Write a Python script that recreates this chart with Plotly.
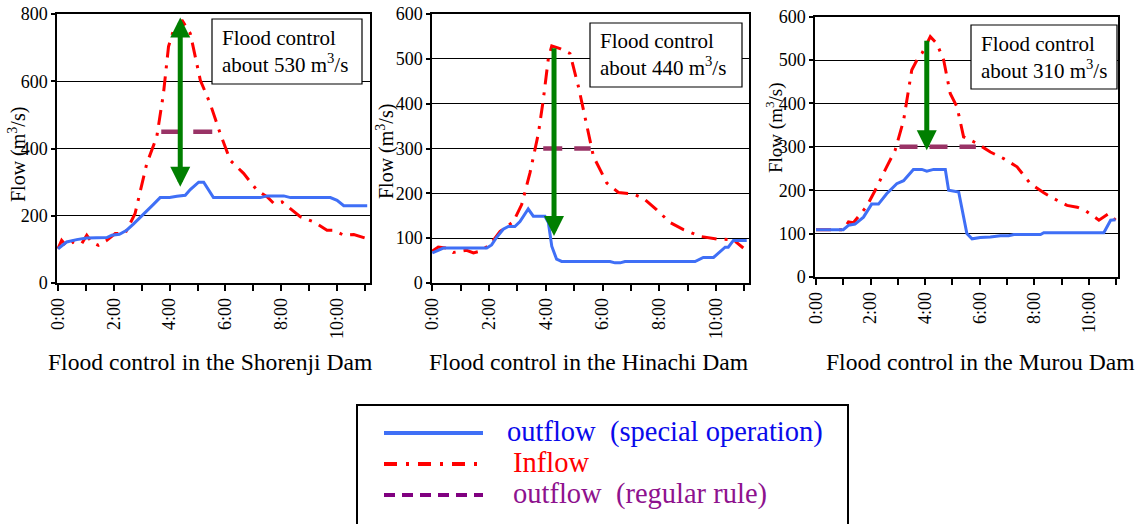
import plotly.graph_objects as go

# ---------------- data (hours after 0:00, m3/s) ----------------
tick_hours = [0, 2, 4, 6, 8, 10]
tick_labels = ["0:00", "2:00", "4:00", "6:00", "8:00", "10:00"]

# Shorenji Dam
sh_out_t = [0, 0.31, 0.67, 1.03, 1.75, 1.93, 2.2, 2.46, 2.7, 3.06, 3.42, 3.66, 4.0, 4.26, 4.56, 4.74,
            5.04, 5.22, 5.57, 7.25, 7.5, 8.09, 8.33, 9.76, 10.0, 10.24, 11.08]
sh_out_q = [102, 122, 129, 134, 135, 142, 145, 157, 175, 206, 234, 254, 254, 258, 261, 278,
            300, 300, 254, 254, 259, 259, 254, 254, 246, 230, 230]
sh_in_t = [0, 0.13, 0.31, 0.55, 0.85, 1.03, 1.2, 1.45, 1.75, 2.05, 2.4, 2.76, 3.18, 3.54, 3.78, 3.96,
           4.14, 4.26, 4.44, 4.74, 5.1, 5.45, 5.81, 6.17, 6.65, 7.13, 7.5, 7.74, 8.03, 8.33, 8.68,
           9.16, 9.64, 9.88, 10.24, 10.6, 11.08]
sh_in_q = [102, 127, 109, 122, 117, 142, 122, 112, 127, 147, 147, 206, 355, 435, 564, 703,
           752, 752, 782, 742, 603, 534, 445, 365, 326, 276, 256, 236, 241, 221, 197,
           182, 157, 157, 142, 144, 132]
sh_reg_t = [3.7, 5.57]
sh_reg_q = [450, 450]
sh_arrow_t, sh_arrow_top, sh_arrow_tip = 4.38, 794, 286
sh_cut = 530

# Hinachi Dam
hi_out_t = [0, 0.15, 0.39, 1.92, 2.09, 2.27, 2.5, 2.68, 2.91, 3.09, 3.38, 3.56, 3.97, 4.09, 4.21, 4.38,
            4.56, 6.26, 6.44, 6.62, 6.79, 9.26, 9.55, 9.91, 10.14, 10.32, 10.43, 10.61, 11.08]
hi_out_q = [67, 71, 78, 78, 85, 102, 120, 126, 126, 137, 165, 149, 149, 135, 82, 53,
            48, 48, 45, 45, 48, 48, 57, 57, 71, 80, 80, 95, 95]
hi_in_t = [0, 0.21, 0.5, 0.74, 1.21, 1.45, 1.68, 2.03, 2.39, 2.86, 3.15, 3.44, 3.74, 3.91, 4.09,
           4.21, 4.5, 4.85, 5.15, 5.44, 5.68, 6.15, 6.56, 7.09, 7.44, 7.91, 8.38, 8.85, 9.44,
           10.02, 10.49, 10.67, 10.96]
hi_in_q = [71, 80, 78, 68, 73, 67, 71, 85, 115, 137, 175, 245, 334, 408, 501,
           529, 523, 512, 438, 356, 282, 223, 202, 198, 189, 163, 135, 119, 104,
           98, 97, 93, 78]
hi_reg_t = [3.91, 5.58]
hi_reg_q = [300, 300]
hi_arrow_t, hi_arrow_top, hi_arrow_tip = 4.29, 527, 105
hi_cut = 440

# Murou Dam
mu_out_t = [0, 1.0, 1.19, 1.43, 1.74, 2.04, 2.29, 2.59, 2.96, 3.21, 3.57, 3.88, 4.06, 4.31, 4.74,
            4.86, 5.23, 5.53, 5.72, 6.02, 6.39, 6.76, 7.06, 7.25, 8.23, 8.35, 10.55, 10.8, 10.98]
mu_out_q = [109, 109, 119, 122, 138, 168, 168, 192, 215, 222, 248, 248, 244, 248, 248,
            200, 196, 100, 88, 91, 92, 95, 95, 98, 98, 102, 102, 131, 132]
mu_in_t = [0.0, 1.0, 1.19, 1.37, 1.86, 2.17, 2.59, 2.9, 3.21, 3.51, 3.7, 3.88, 4.19, 4.43, 4.68,
           4.92, 5.17, 5.41, 5.9, 6.39, 6.88, 7.37, 7.86, 8.35, 8.71, 9.2, 9.57, 9.9, 10.37,
           10.73, 10.98]
mu_in_q = [109, 109, 127, 125, 163, 200, 254, 292, 361, 477, 500, 515, 554, 538, 500,
           423, 392, 323, 308, 288, 273, 254, 215, 194, 181, 165, 161, 152, 131,
           146, 131]
mu_reg_t = [3.06, 5.86]
mu_reg_q = [300, 300]
mu_arrow_t, mu_arrow_top, mu_arrow_tip = 4.06, 548, 292
mu_cut = 310

dam_names = ["Shorenji", "Hinachi", "Murou"]
legend_names = ["outflow\u00a0 (special operation)", "Inflow", "outflow\u00a0 (regular rule)"]

# ---------------- style ----------------
W, H = 1135, 524
SERIF = "Liberation Serif"
BLUE = "#3F6FF6"
RED = "#FF0000"
REG = "#993366"
GREEN = "#007F00"


def fx(px):
    return px / W


def fy(py):
    return 1 - py / H


panels = [
    dict(out=(sh_out_t, sh_out_q), inflow=(sh_in_t, sh_in_q), reg=(sh_reg_t, sh_reg_q),
         arrow=(sh_arrow_t, sh_arrow_top, sh_arrow_tip), cut=sh_cut, both=True,
         xpx=(57, 370), ypx=(14, 283), xr=(-0.036, 11.18), ymax=800, dtick=200,
         box=(212, 19, 362, 84), lab=(17, 155, 20), title_x=210, dash="19px,13px"),
    dict(out=(hi_out_t, hi_out_q), inflow=(hi_in_t, hi_in_q), reg=(hi_reg_t, hi_reg_q),
         arrow=(hi_arrow_t, hi_arrow_top, hi_arrow_tip), cut=hi_cut, both=False,
         xpx=(432, 749), ypx=(14, 283), xr=(-0.01, 11.16), ymax=600, dtick=100,
         box=(590, 23, 742, 87), lab=(385, 152, 20), title_x=589, dash="19px,12px"),
    dict(out=(mu_out_t, mu_out_q), inflow=(mu_in_t, mu_in_q), reg=(mu_reg_t, mu_reg_q),
         arrow=(mu_arrow_t, mu_arrow_top, mu_arrow_tip), cut=mu_cut, both=False,
         xpx=(815, 1118), ypx=(16.7, 277), xr=(-0.037, 11.07), ymax=600, dtick=100,
         box=(971, 25, 1117, 89), lab=(775, 128, 19), title_x=980, dash="18px,12px"),
]

fig = go.Figure()
shapes = []
annotations = []

for i, p in enumerate(panels):
    n = "" if i == 0 else str(i + 1)
    xa, ya = "x" + n, "y" + n
    fig.add_trace(go.Scatter(x=p["reg"][0], y=p["reg"][1], xaxis=xa, yaxis=ya, mode="lines",
                             line=dict(color=REG, width=4.5, dash=p["dash"]), showlegend=False,
                             name=legend_names[2]))
    fig.add_trace(go.Scatter(x=p["inflow"][0], y=p["inflow"][1], xaxis=xa, yaxis=ya, mode="lines",
                             line=dict(color=RED, width=3, dash="15px,8px,3px,8px"), showlegend=False,
                             name=legend_names[1]))
    fig.add_trace(go.Scatter(x=p["out"][0], y=p["out"][1], xaxis=xa, yaxis=ya, mode="lines",
                             line=dict(color=BLUE, width=3), showlegend=False,
                             name=legend_names[0]))

    axis_common = dict(showline=True, linecolor="black", linewidth=1.5, mirror=True,
                       ticks="outside", tickcolor="black", tickwidth=1.5, automargin=False,
                       tickfont=dict(family=SERIF, size=18, color="black"), zeroline=False)
    fig.update_layout(**{
        ("xaxis" + n): dict(domain=[fx(p["xpx"][0]), fx(p["xpx"][1])], range=list(p["xr"]),
                            tickmode="array", tickvals=tick_hours, ticktext=tick_labels,
                            tickangle=-90, ticklen=6, showgrid=False, anchor=ya,
                            minor=dict(tickmode="linear", tick0=0, dtick=1, ticks="outside",
                                       ticklen=6, tickwidth=1.5, tickcolor="black", showgrid=False),
                            **axis_common),
        ("yaxis" + n): dict(domain=[fy(p["ypx"][1]), fy(p["ypx"][0])], range=[0, p["ymax"]],
                            dtick=p["dtick"], ticklen=4, showgrid=True, gridcolor="black",
                            gridwidth=1, anchor=xa, **axis_common),
    })

    at, atop, atip = p["arrow"]
    annotations.append(dict(x=at, y=atip, ax=at, ay=atop, xref=xa, yref=ya, axref=xa, ayref=ya,
                            text="", showarrow=True, arrowhead=2, arrowsize=0.8, arrowwidth=5,
                            arrowcolor=GREEN, startarrowhead=2, startarrowsize=0.8,
                            arrowside="end+start" if p["both"] else "end", standoff=0,
                            startstandoff=0))

    bx0, by0, bx1, by1 = p["box"]
    shapes.append(dict(type="rect", xref="paper", yref="paper", x0=fx(bx0), x1=fx(bx1),
                       y0=fy(by1), y1=fy(by0), line=dict(color="black", width=1.2),
                       fillcolor="white", layer="above"))
    annotations.append(dict(xref="paper", yref="paper", x=fx(bx0 + 8), y=fy((by0 + by1) / 2),
                            xanchor="left", yanchor="middle", align="left", showarrow=False,
                            text="Flood control<br>about %d m<sup>3</sup>/s" % p["cut"],
                            font=dict(family=SERIF, size=21, color="black")))

    lx, ly, lsz = p["lab"]
    annotations.append(dict(xref="paper", yref="paper", x=fx(lx), y=fy(ly), textangle=-90,
                            showarrow=False, xanchor="center", yanchor="middle",
                            text="Flow (m<sup>3</sup>/s)",
                            font=dict(family=SERIF, size=lsz, color="black")))
    annotations.append(dict(xref="paper", yref="paper", x=fx(p["title_x"]), y=fy(362),
                            xanchor="center", yanchor="middle", showarrow=False,
                            text="Flood control in the %s Dam" % dam_names[i],
                            font=dict(family=SERIF, size=23.6, color="black")))

# ---------------- legend (drawn box) ----------------
shapes.append(dict(type="rect", xref="paper", yref="paper", x0=fx(357), x1=fx(848),
                   y0=fy(540), y1=fy(405), line=dict(color="black", width=2), fillcolor="white",
                   layer="below"))
leg_items = [
    (433, BLUE, "solid", 4, "#0A0AEB", 505),
    (464, RED, "13px,9px,3px,9px", 4, "#FF0000", 511),
    (495, "#800080", "11px,7px", 4, "#8E128E", 511),
]
for (yy, lc, dash, lw, tc, tx), name in zip(leg_items, legend_names):
    shapes.append(dict(type="line", xref="paper", yref="paper", x0=fx(384), x1=fx(483),
                       y0=fy(yy), y1=fy(yy), line=dict(color=lc, width=lw, dash=dash)))
    annotations.append(dict(xref="paper", yref="paper", x=fx(tx), y=fy(yy - 1), xanchor="left",
                            yanchor="middle", showarrow=False, text=name,
                            font=dict(family=SERIF, size=28.5, color=tc)))

fig.update_layout(width=W, height=H, margin=dict(l=0, r=0, t=0, b=0, autoexpand=False),
                  paper_bgcolor="white", plot_bgcolor="white", showlegend=False,
                  font=dict(family=SERIF),
                  shapes=shapes, annotations=annotations)

fig.write_html("out.html")
